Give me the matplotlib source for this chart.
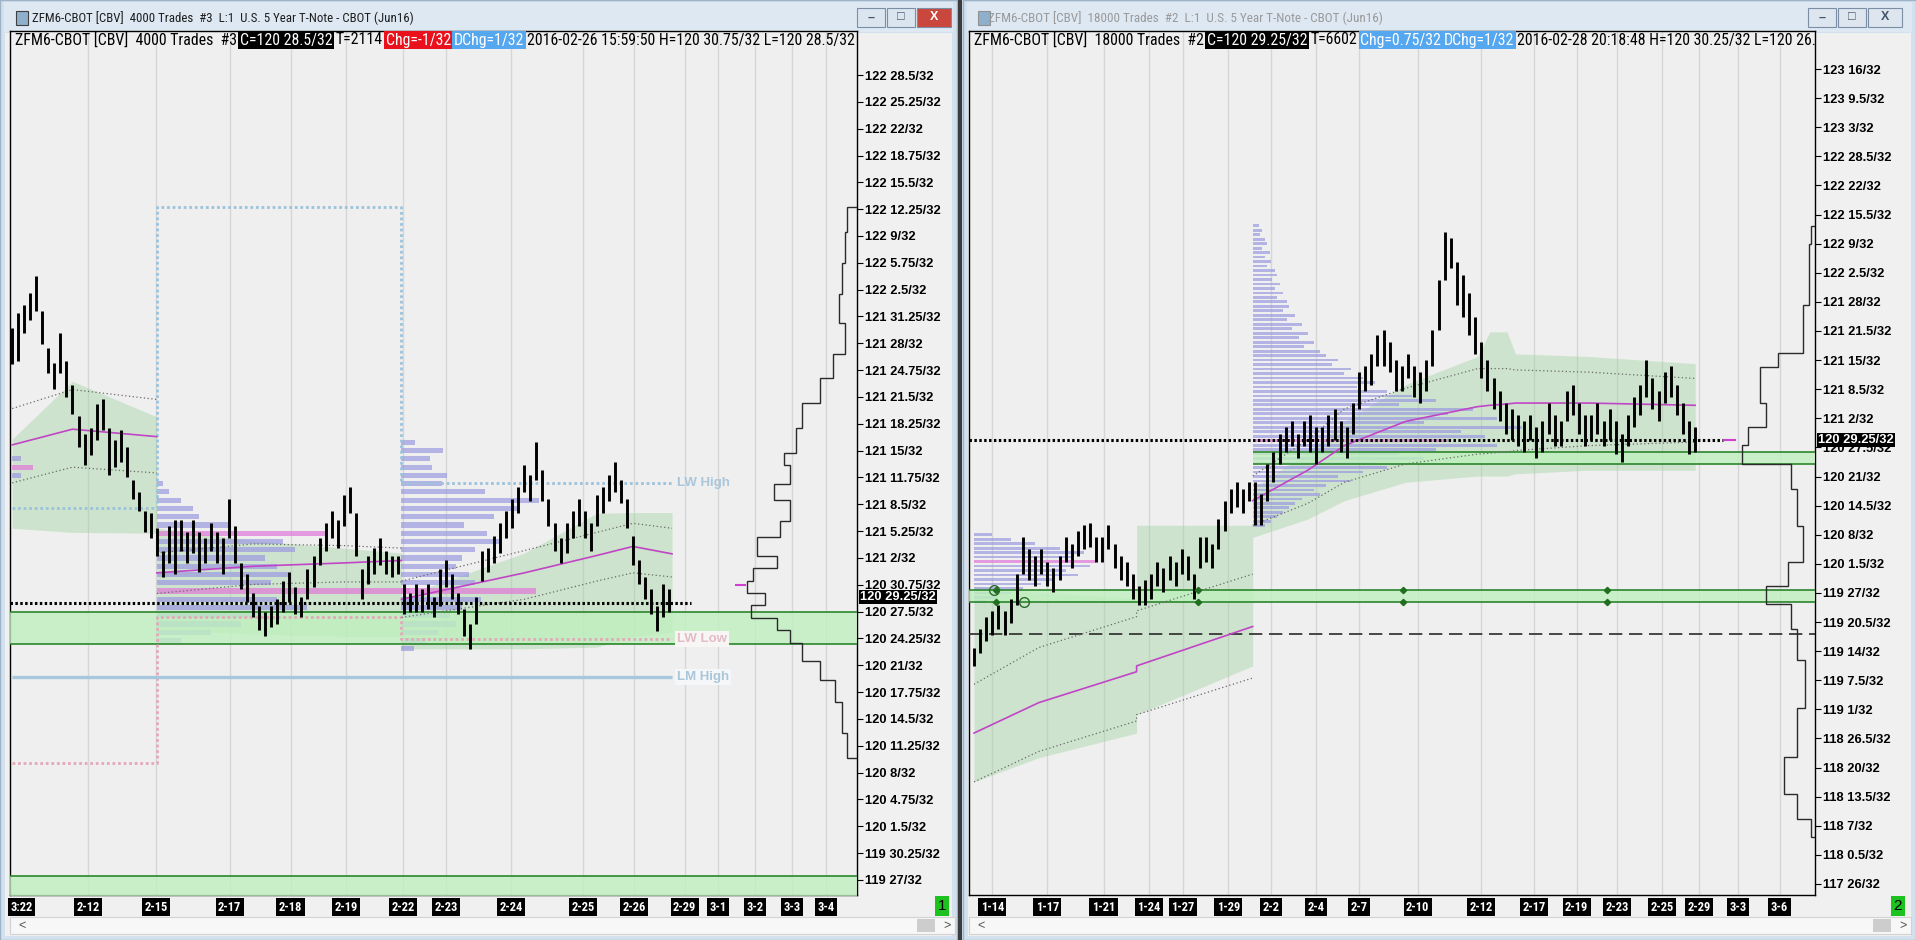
import numpy as np
import matplotlib
matplotlib.use("Agg")
import matplotlib.pyplot as plt
from matplotlib.patches import Rectangle
from matplotlib.transforms import IdentityTransform, blended_transform_factory

plt.rcParams['font.family'] = ['Liberation Sans', 'DejaVu Sans']
NARROW = ['Liberation Sans Narrow', 'Roboto Condensed', 'Noto Sans', 'Liberation Sans', 'DejaVu Sans']

# every price below is in 32nds above 120 (28.5 -> "120 28.5/32")

# ---------------- left window: ZFM6 4000 trade bars ----------------
left_hi = [61.9, 63.7, 64.6, 66.1, 68.2, 63.9, 59.4, 57.6, 61.3, 57.9,
           55.0, 51.2, 49.0, 49.8, 52.7, 53.2, 49.8, 48.3, 49.5, 47.5,
           43.5, 42.0, 39.7, 39.4, 37.6, 34.9, 37.9, 38.6, 38.6, 37.2,
           38.6, 37.2, 36.4, 38.2, 37.2, 36.4, 41.2, 37.9, 33.4, 32.0,
           29.7, 28.2, 27.5, 28.2, 29.0, 31.2, 32.3, 30.5, 29.3, 32.7,
           34.2, 36.4, 38.2, 39.7, 38.6, 41.6, 42.6, 39.4, 32.7, 34.2,
           35.2, 36.4, 34.9, 34.2, 34.2, 30.8, 29.7, 30.8, 30.2, 30.8,
           29.3, 32.7, 33.7, 32.0, 29.7, 27.8, 26.0, 29.3, 34.9, 35.2,
           36.7, 38.2, 39.7, 41.2, 42.6, 45.3, 44.1, 48.0, 44.6, 41.2,
           38.2, 36.4, 38.2, 39.7, 41.2, 39.7, 38.2, 41.6, 42.6, 44.1,
           45.6, 43.5, 41.2, 36.7, 33.7, 31.7, 30.2, 28.2, 30.8, 30.2]
left_lo = [57.5, 57.9, 61.3, 62.8, 63.9, 59.9, 56.4, 54.5, 56.4, 53.5,
           51.5, 47.5, 45.3, 46.5, 48.3, 49.5, 44.1, 45.0, 45.6, 43.8,
           41.2, 39.7, 37.1, 36.4, 34.2, 31.7, 33.4, 32.0, 34.9, 33.4,
           34.6, 32.3, 33.4, 34.9, 33.4, 32.0, 36.4, 33.4, 30.2, 28.7,
           26.8, 25.3, 24.5, 25.7, 26.0, 27.5, 28.7, 27.2, 26.8, 29.0,
           30.5, 33.1, 34.9, 36.4, 35.2, 37.9, 39.4, 34.2, 29.0, 30.8,
           32.0, 33.1, 32.0, 31.7, 32.0, 27.2, 27.5, 27.5, 27.5, 27.8,
           26.8, 28.2, 30.5, 29.0, 27.2, 24.5, 23.0, 26.0, 31.2, 32.3,
           33.4, 34.6, 36.4, 37.6, 39.4, 42.0, 40.9, 43.5, 40.9, 37.9,
           34.9, 33.4, 34.6, 36.4, 37.9, 36.4, 34.9, 37.9, 39.4, 40.9,
           42.0, 40.6, 37.6, 33.1, 30.8, 29.0, 27.2, 25.1, 26.8, 27.5]
left_dates = ['3:22', '2-12', '2-15', '2-17', '2-18', '2-19', '2-22', '2-23',
              '2-24', '2-25', '2-26', '2-29', '3-1', '3-2', '3-3', '3-4']
left_date_bar = [1.6, 12.6, 23.9, 36.1, 46.2, 55.4, 64.9, 72, 82.8, 94.7,
                 103.2, 111.6, 117.2, 123.3, 129.4, 135.1]

# session volatility bands (bar index anchors)
left_seg_x = [[0, 10, 24], [24, 40, 55, 64.6], [64.6, 85, 97, 103, 109.5]]
left_seg_top = [[48.4, 55.4, 51.1], [37.6, 36.1, 35.2, 34.6], [29.3, 34.6, 39.4, 39.5, 39.5]]
left_seg_bot = [[37.6, 37.1, 37.0], [25.3, 24.8, 24.5, 24.5], [23.0, 23.0, 23.2, 24.5, 25.0]]
left_seg_mid = [[47.7, 49.6, 48.7], [32.2, 33.0, 33.4, 33.7], [29.0, 32.2, 34.3, 35.4, 34.5]]
left_seg_up = [[52.1, 54.4, 53.2], [34.6, 35.7, 35.5, 35.2], [31.2, 34.9, 37.1, 38.2, 37.6]]
left_seg_dn = [[43.1, 45.0, 44.3], [29.7, 30.8, 31.1, 31.1], [26.8, 29.0, 31.2, 32.2, 31.7]]

# session volume profiles: start bar, top price level, volume per 1/32 going down
left_prof_start = [0, 24, 64.6]
left_prof_top = [46, 43, 48]
left_prof_vol = [[1.5, 3.5, 1.5],
                 [1, 2, 4, 6, 7, 12, 28, 21, 23, 18, 20, 22, 19, 42, 20, 25, 18, 14, 9, 4],
                 [2.2, 6.9, 4.7, 5.1, 7.5, 6.7, 13.8, 22.9, 19.3, 15.4, 10.3, 14.2, 16.2,
                  12.2, 10.1, 9.1, 11.2, 12.2, 22.3, 13.2, 10.1, 8.1, 9.1, 6.1, 4.1, 2.0]]
left_prof_poc = [[45], [37, 30], [30]]

# composite profile on the right edge
left_comp_edges = [9.75, 12.75, 16.5, 19.25, 21.5, 23.75, 25.25, 26.75, 28.25, 29.75,
                   31.25, 32.75, 34.25, 36.5, 38.5, 41, 43, 45.25, 46.75, 49.75,
                   52.75, 55.75, 58.75, 62.5, 66, 69.75, 73.5, 76.5]
left_comp_vol = [8, 12, 18, 30, 45, 55, 65, 87, 75, 90, 85, 65, 82, 63, 55, 68, 55,
                 60, 50, 45, 30, 20, 10, 15, 12, 10, 8]

left_week_x = [0, 24, 24, 64.6, 64.6, 109.5]
left_week_high = [40.1, 40.1, 76.5, 76.5, 43.1, 43.1]
left_week_low = [9.2, 9.2, 26.8, 26.8, 24.2, 24.2]
left_month_high = 19.6
left_zones = [(23.6, 27.5), (-12, -4.5)]
left_last = 28.5

# ---------------- right window: ZFM6 18000 trade bars ----------------
right_hi = [-17.2, -13.1, -10.3, -9.0, -7.6, -9.0, -6.3, -0.8, 7.4, 4.7,
            3.3, 4.7, 1.9, 0.6, 3.3, 7.4, 6.0, 8.8, 10.1, 10.7,
            7.4, 7.4, 10.1, 6.0, 3.3, 1.9, -0.8, -3.5, -2.2, -0.8,
            1.9, 0.6, 3.3, 1.9, 4.7, 3.3, -0.8, 7.4, 7.4, 6.0,
            11.5, 15.6, 18.3, 19.7, 18.3, 19.7, 19.7, 17.0, 23.8, 26.5,
            30.6, 32.0, 33.4, 30.6, 33.4, 34.7, 32.0, 32.0, 34.7, 36.1,
            33.4, 32.0, 37.4, 44.3, 45.6, 48.4, 52.5, 53.8, 51.1, 47.0,
            45.6, 48.4, 45.6, 44.3, 47.0, 53.8, 64.8, 75.7, 74.3, 68.9,
            66.1, 62.0, 56.6, 51.1, 47.0, 42.9, 40.2, 37.4, 36.1, 34.7,
            33.4, 34.7, 32.0, 33.4, 37.4, 34.7, 33.4, 40.2, 41.5, 37.4,
            34.7, 34.7, 37.4, 33.4, 36.1, 33.4, 30.6, 34.7, 38.8, 41.5,
            47.0, 42.9, 40.2, 44.3, 45.6, 41.5, 37.4, 33.4, 32.0]
right_lo = [-21.3, -18.5, -15.8, -14.5, -13.1, -14.5, -11.7, -7.6, -0.8, -2.2,
            -3.5, -0.8, -3.5, -4.9, -2.2, 1.9, 0.6, 3.3, 4.7, 5.2,
            1.9, 1.9, 4.7, 0.6, -2.2, -3.5, -6.3, -7.6, -7.6, -6.3,
            -3.5, -4.9, -2.2, -3.5, -0.8, -2.2, -6.3, 0.6, 1.9, 0.6,
            4.7, 8.8, 12.9, 14.2, 12.9, 15.6, 10.1, 10.1, 15.6, 19.7,
            23.8, 26.5, 27.9, 25.2, 27.9, 26.5, 23.8, 26.5, 27.9, 29.2,
            26.5, 25.2, 30.6, 36.1, 40.2, 41.5, 45.6, 45.6, 44.3, 40.2,
            40.2, 42.9, 38.8, 37.4, 40.2, 45.6, 53.8, 64.8, 67.5, 59.3,
            56.6, 52.5, 48.4, 42.9, 40.2, 36.1, 33.4, 30.6, 29.2, 27.9,
            26.5, 29.2, 25.2, 26.5, 30.6, 27.9, 27.9, 33.4, 34.7, 30.6,
            27.9, 29.2, 30.6, 27.9, 29.2, 26.0, 24.3, 27.9, 32.0, 34.7,
            38.8, 36.1, 33.4, 37.4, 38.8, 34.7, 30.6, 26.0, 26.5]
right_dates = ['1-14', '1-17', '1-21', '1-24', '1-27', '1-29', '2-2', '2-4', '2-7',
               '2-10', '2-12', '2-17', '2-19', '2-23', '2-25', '2-29', '3-3', '3-6']
right_date_bar = [3, 12, 21.2, 28.6, 34.2, 41.6, 48.6, 56, 63, 72.6, 83, 91.6,
                  98.6, 105.2, 112.6, 118.6, 125, 131.8]

right_seg_x = [[0, 10.6, 26.6, 26.6, 45.6],
               [45.6, 54.6, 60.6, 70.6, 82.4, 84.4, 87.2, 88.6, 100.6, 118]]
right_seg_top = [[-3.5, -4.9, -6.3, 10.1, 10.1],
                 [18.3, 26.5, 33.3, 41.5, 47.8, 53.3, 53.3, 48.4, 47.8, 46.2]]
right_seg_bot = [[-47.2, -41.8, -36.3, -32.2, -21.3],
                 [7.4, 11.5, 15.6, 19.7, 21.1, 21.1, 21.1, 21.6, 22.4, 22.4]]
right_seg_mid = [[-36.3, -29.5, -22.6, -21.3, -12.5],
                 [15.6, 22.4, 27.9, 33.3, 36.6, 36.9, 37.2, 37.4, 37.4, 36.9]]
right_seg_up = [[-25.4, -17.2, -10.3, -9.0, -0.8],
                [21.1, 29.2, 36.1, 40.7, 45.1, 45.1, 45.1, 44.8, 44.3, 42.9]]
right_seg_dn = [[-47.2, -40.4, -33.6, -32.2, -24.0],
                [10.1, 15.0, 19.7, 23.8, 26.0, 26.2, 26.5, 26.8, 27.9, 28.7]]

right_prof_start = [0, 45.6]
right_prof_top = [8, 77]
right_prof_vol = [[3, 6, 10, 14, 18, 16, 20, 19, 15, 17, 13, 11, 8, 6, 4, 2],
                  [1, 1.6, 1.2, 2, 2.4, 1.6, 2.8, 2,
                   3, 2.4, 3.6, 4, 3.2, 4.4, 3.6, 5, 4, 5.6,
                   6, 5, 7, 5.6, 8, 6.4, 9, 7.6, 10, 8.4,
                   11, 12, 14, 13, 16, 15, 18, 20, 17, 22,
                   26, 30, 24, 36, 32, 40, 28, 44, 34, 38,
                   32, 40, 30, 24, 28, 20, 22, 18, 14, 16,
                   12, 10, 11, 8, 7, 6, 5, 4, 3, 2]]
right_prof_poc = [[2], [29]]

right_comp_edges = [-59.5, -55.5, -50, -41.75, -30.75, -20, -13, -7.5, -3.5, 2, 10,
                    18.25, 23.75, 28, 32, 37.5, 45.5, 48.5, 59.25, 73, 77]
right_comp_vol = [3, 15, 25, 15, 8, 15, 20, 40, 22, 10, 15, 20, 60, 55, 40, 45, 30, 10, 5, 3]

right_zone_upper = (23.8, 26.5)
right_zone_lower = (-7.1, -4.3)
right_zone_marks = [3.6, 36.6, 70.2, 103.6]
right_dashed = -14.2
right_last = 29.25

W, H = 1916, 940
fig = plt.figure(figsize=(W / 100, H / 100), dpi=100)
fig.patch.set_facecolor('#c9d9ea')
R = fig.canvas.get_renderer()
PX = IdentityTransform()


def rect(x0, y0, x1, y1, **kw):
    kw.setdefault('zorder', -5)
    fig.add_artist(Rectangle((x0 / W, 1 - y1 / H), (x1 - x0) / W, (y1 - y0) / H,
                             transform=fig.transFigure, **kw))


def fit_size(s, width, family, weight='normal'):
    t = fig.text(0, 0, s, family=family, size=10, weight=weight, stretch='condensed')
    w = t.get_window_extent(R).width
    t.remove()
    return 10 * width / w


def fmt32(v, pos=None):
    h = int(np.floor(v / 32 + 1e-9))
    f = v - 32 * h
    return f"{120 + h} {f:g}/32"


# window chrome
for x0, x1, active in [(0, 957, True), (963, 1916, False)]:
    rect(x0, 0, x1, H, fc='#d3e0ee', ec='#9fb3c8', lw=1)
    rect(x0 + 4, 2, x1 - 4, 32, fc='#dde8f3')
    rect(x0 + 5, 33, x1 - 5, H - 4, fc='#f0f0f0')
rect(958, 0, 962, H, fc='#3c3c3c', zorder=-4)

title_l = "ZFM6-CBOT [CBV]  4000 Trades  #3  L:1  U.S. 5 Year T-Note - CBOT (Jun16)"
title_r = "ZFM6-CBOT [CBV]  18000 Trades  #2  L:1  U.S. 5 Year T-Note - CBOT (Jun16)"
fig.text(32 / W, 1 - 18 / H, title_l, family=NARROW, stretch='condensed', va='center',
         color='#1e1e1e', size=fit_size(title_l, 381, NARROW))
fig.text(988 / W, 1 - 18 / H, title_r, family=NARROW, stretch='condensed', va='center',
         color='#9a9a9a', size=fit_size(title_r, 395, NARROW))
rect(16, 11, 28, 25, fc='#8fb0cc', ec='#404040', lw=0.8, zorder=2)
rect(978, 11, 990, 25, fc='#8fb0cc', ec='#909090', lw=0.8, zorder=2)

btn_sets = [(857, ['#dbe5f0', '#dbe5f0', '#c9473d']), (1808, ['#dde5ee', '#dde5ee', '#dde5ee'])]
for bx, cols in btn_sets:
    spans = [(bx, bx + 28), (bx + 30, bx + 58), (bx + 60, bx + 94)]
    for (a, b), c, g in zip(spans, cols, ['\u2013', '\u25a1', 'X']):
        rect(a, 8, b, 27, fc=c, ec='#7c8ea6', lw=0.8, zorder=2)
        fig.text((a + b) / 2 / W, 1 - 17.5 / H, g, ha='center', va='center', size=9,
                 weight='bold', color='white' if c == '#c9473d' else '#44546a')

for x0, x1, num in [(10, 955, '1'), (969, 1911, '2')]:
    rect(x0, 917, x1, 934, fc='#f7f7f7', ec='#d2d2d2', lw=0.8, zorder=2)
    rect(x1 - 38, 919, x1 - 20, 932, fc='#cdcdcd', zorder=3)
    fig.text((x0 + 8) / W, 1 - 926 / H, '<', va='center', size=9, color='#505050')
    fig.text((x1 - 12) / W, 1 - 926 / H, '>', va='center', size=9, color='#505050')
    fig.text((x1 - 13) / W, 1 - 906 / H, num, ha='center', va='center', size=11,
             color='black', bbox=dict(boxstyle='square,pad=0.18', fc='#1ec21e', ec='none'))

tick_size = fit_size("122 28.5/32", 68, ['Liberation Sans', 'DejaVu Sans'], 'bold')
date_size = 9
info_size = fit_size("ZFM6-CBOT [CBV]  4000 Trades  #3", 222, NARROW)


def panel(ax, hi, lo, xlim, ylim, yticks, dbar, dlbl, segs, profs, comp, last, last_to):
    ax.set_facecolor('#efefef')
    ax.set_xlim(*xlim)
    ax.set_ylim(*ylim)
    for s in ax.spines.values():
        s.set_color('black')
        s.set_linewidth(1)
    ax.yaxis.tick_right()
    ax.set_yticks(yticks)
    ax.yaxis.set_major_formatter(plt.FuncFormatter(fmt32))
    ax.tick_params(axis='y', length=4, width=0.8, pad=2, labelsize=tick_size)
    for lbl in ax.get_yticklabels():
        lbl.set_fontweight('bold')
    ax.set_xticks(dbar, dlbl)
    ax.tick_params(axis='x', length=0, pad=4)
    for lbl in ax.get_xticklabels():
        lbl.set_family(NARROW)
        lbl.set_stretch('condensed')
        lbl.set_fontweight('bold')
        lbl.set_fontsize(date_size)
        lbl.set_color('white')
        lbl.set_bbox(dict(boxstyle='square,pad=0.2', fc='black', ec='none'))
    ax.vlines(dbar[1:] if dlbl[0] == '3:22' else dbar, ylim[0], ylim[1],
              color='#d6d6d6', lw=1, zorder=0.5)

    sx, st, sb, sm, su, sd = segs
    for k in range(len(sx)):
        ax.fill_between(sx[k], sb[k], st[k], color='#9fd39f', alpha=0.42, lw=0, zorder=1)
        ax.plot(sx[k], sm[k], color='#c145c6', lw=1.2, zorder=5)
        ax.plot(sx[k], su[k], color='#6a6a6a', lw=0.9, ls=(0, (1, 2)), zorder=5)
        ax.plot(sx[k], sd[k], color='#6a6a6a', lw=0.9, ls=(0, (1, 2)), zorder=5)

    pstart, ptop, pvol, ppoc = profs
    for start, top, vol, poc in zip(pstart, ptop, pvol, ppoc):
        lv = top - np.arange(len(vol))
        cols = ['#e07ad8' if v in poc else '#9c9ce0' for v in lv]
        ax.barh(lv, vol, left=start, height=0.62, color=cols, alpha=0.72, lw=0, zorder=2)

    x = np.arange(len(hi))
    ax.vlines(x, lo, hi, color='black', lw=2.1, zorder=6)
    ax.hlines(last, xlim[0], last_to, color='black', lw=2.2, ls=(0, (0.8, 0.8)), zorder=7)

    tw = ax.twiny()
    tw.set_xlim(692, 0)
    tw.set_xticks([])
    for s in tw.spines.values():
        s.set_visible(False)
    tw.stairs(comp[1], comp[0], orientation='horizontal', baseline=0, fill=False,
              color='#2a2a2a', lw=1)
    return tw


def info(ax, x0, pieces):
    x = x0
    for s, fc, tc in pieces:
        t = ax.text(x, H - 40, s, transform=PX, family=NARROW, stretch='condensed',
                    size=info_size, color=tc, va='center', ha='left', zorder=30, clip_on=True)
        if fc:
            t.set_bbox(dict(boxstyle='square,pad=0.1', fc=fc, ec='none'))
        x = t.get_window_extent(R).x1 + 3


def price_box(ax, v, txt):
    ax.text(1.004, v, txt, transform=blended_transform_factory(ax.transAxes, ax.transData),
            color='white', size=tick_size, weight='bold', va='center', ha='left',
            clip_on=False, zorder=40,
            bbox=dict(boxstyle='square,pad=0.08', fc='black', ec='none'))


def zone(ax, lo, hi, x0, x1):
    ax.fill_between([x0, x1], lo, hi, color='#bff0bf', alpha=0.8, lw=0, zorder=3)
    ax.hlines([lo, hi], x0, x1, color='#2b862b', lw=1.2, zorder=3.5)


# ---------------- left chart ----------------
axL = fig.add_axes([10 / W, 1 - 895 / H, 847 / W, 864 / H])
twL = panel(axL, left_hi, left_lo, (-0.37, 140.2), (-6.82, 97.83), np.arange(-5, 92.6, 3.25),
            left_date_bar, left_dates,
            (left_seg_x, left_seg_top, left_seg_bot, left_seg_mid, left_seg_up, left_seg_dn),
            (left_prof_start, left_prof_top, left_prof_vol, left_prof_poc),
            (left_comp_edges, left_comp_vol), left_last, 112.6)
for lo, hi in left_zones:
    zone(axL, lo, hi, -0.37, 140.2)
axL.plot(left_week_x, left_week_high, color='#9cc3dc', lw=2, ls=(0, (1, 1)), zorder=4)
axL.plot(left_week_x, left_week_low, color='#e3a9b9', lw=2, ls=(0, (1, 1)), zorder=4)
axL.hlines(left_month_high, 0, 109.5, color='#a6c7dc', lw=2.4, zorder=4)
axL.text(110.3, left_week_high[-1], 'LW High', color='#a9c6da', size=9.5, weight='bold',
         va='center', zorder=8)
axL.text(110.3, left_week_low[-1], 'LW Low', color='#e3bcc6', size=9.5, weight='bold',
         va='center', zorder=8, bbox=dict(boxstyle='square,pad=0.15', fc='#f8f5f5', ec='none'))
axL.text(110.3, left_month_high, 'LM High', color='#a9c6da', size=9.5, weight='bold',
         va='center', zorder=8, bbox=dict(boxstyle='square,pad=0.15', fc='#f5f6f7', ec='none'))
twL.hlines(30.75, 91, 100, color='#d040d0', lw=1.5)
price_box(axL, 29.25, '120 29.25/32')
info(axL, 15, [("ZFM6-CBOT [CBV]  4000 Trades  #3", None, 'black'),
               ("C=120 28.5/32", 'black', 'white'),
               ("T=2114", None, 'black'),
               ("Chg=-1/32", '#e8111c', 'white'),
               ("DChg=1/32", '#55a7ef', 'white'),
               ("2016-02-26 15:59:50 H=120 30.75/32 L=120 28.5/32", None, 'black')])

# ---------------- right chart ----------------
axR = fig.add_axes([969 / W, 1 - 895 / H, 846 / W, 864 / H])
twR = panel(axR, right_hi, right_lo, (-0.82, 137.6), (-72.46, 120.49), np.arange(-70, 112.1, 6.5),
            right_date_bar, right_dates,
            (right_seg_x, right_seg_top, right_seg_bot, right_seg_mid, right_seg_up, right_seg_dn),
            (right_prof_start, right_prof_top, right_prof_vol, right_prof_poc),
            (right_comp_edges, right_comp_vol), right_last, 122.6)
zone(axR, right_zone_upper[0], right_zone_upper[1], 45.6, 137.6)
zone(axR, right_zone_lower[0], right_zone_lower[1], -0.82, 137.6)
for v in right_zone_lower:
    axR.plot(right_zone_marks, [v] * len(right_zone_marks), ls='none', marker='D', ms=3.2,
             color='#1f6f1f', zorder=6)
axR.plot([3.2, 8.2], [right_zone_lower[1], right_zone_lower[0]], ls='none', marker='o', ms=7,
         mfc='none', mec='#2b6b2b', mew=1, zorder=6)
axR.hlines(right_dashed, -0.82, 137.6, color='#2a2a2a', lw=1.2, ls=(0, (8, 4)), zorder=4)
axR.hlines(right_last, 122.6, 124.6, color='#d040d0', lw=1.5, zorder=7)
price_box(axR, 29.25, '120 29.25/32')
info(axR, 974, [("ZFM6-CBOT [CBV]  18000 Trades  #2", None, 'black'),
                ("C=120 29.25/32", 'black', 'white'),
                ("T=6602", None, 'black'),
                ("Chg=0.75/32", '#55a7ef', 'white'),
                ("DChg=1/32", '#55a7ef', 'white'),
                ("2016-02-28 20:18:48 H=120 30.25/32 L=120 26.75/32", None, 'black')])

fig.savefig('out.png', dpi=100, facecolor=fig.get_facecolor())
